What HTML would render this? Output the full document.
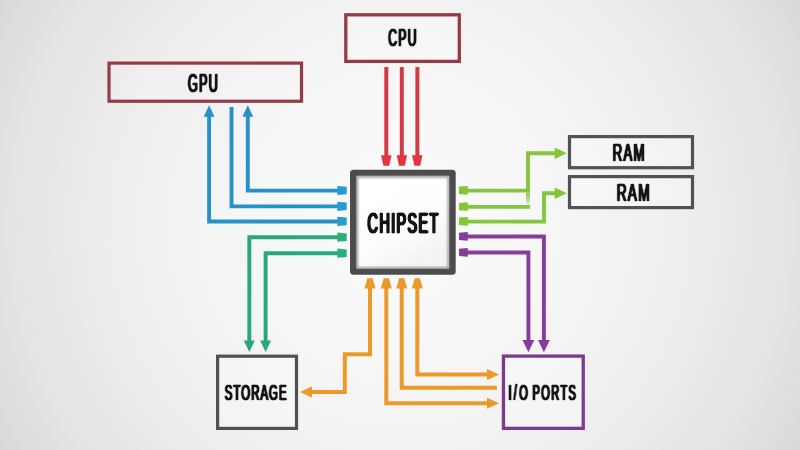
<!DOCTYPE html>
<html><head><meta charset="utf-8"><title>Chipset diagram</title>
<style>
html,body{margin:0;padding:0;width:800px;height:450px;overflow:hidden;background:#e9e9e9}
svg{display:block}
text{font-family:"Liberation Sans",sans-serif;font-weight:normal;fill:#121212;text-anchor:middle}
</style></head><body>
<svg width="800" height="450" viewBox="0 0 800 450">
<defs>
<radialGradient id="bg" gradientUnits="userSpaceOnUse" cx="400" cy="225" r="460">
<stop offset="0" stop-color="#fafafa"/>
<stop offset="0.30" stop-color="#f7f7f7"/>
<stop offset="0.48" stop-color="#f2f2f2"/>
<stop offset="0.63" stop-color="#eeeeee"/>
<stop offset="0.84" stop-color="#e4e4e4"/>
<stop offset="1" stop-color="#d9d9d9"/>
</radialGradient>
<linearGradient id="gfade" gradientUnits="userSpaceOnUse" x1="0" y1="192.600" x2="0" y2="204.900">
<stop offset="0" stop-color="#86c440" stop-opacity="0.95"/>
<stop offset="0.6" stop-color="#86c440" stop-opacity="0.55"/>
<stop offset="1" stop-color="#86c440" stop-opacity="0.1"/>
</linearGradient>
<linearGradient id="chip" x1="0" y1="0" x2="0.6" y2="1">
<stop offset="0" stop-color="#ffffff"/>
<stop offset="0.6" stop-color="#fefefe"/>
<stop offset="1" stop-color="#f3f3f3"/>
</linearGradient>
<filter id="soft" x="-5%" y="-5%" width="110%" height="110%"><feGaussianBlur stdDeviation="0.8"/></filter>
<filter id="fat2" x="-5%" y="-5%" width="110%" height="110%" color-interpolation-filters="sRGB">
<feConvolveMatrix in="SourceAlpha" order="3" kernelMatrix="0 0.3 0 0.65 1 0.65 0 0.3 0" divisor="1" preserveAlpha="false" result="d"/>
<feFlood flood-color="#141414"/><feComposite in2="d" operator="in"/>
</filter>
<filter id="fat" x="-5%" y="-5%" width="110%" height="110%" color-interpolation-filters="sRGB">
<feConvolveMatrix in="SourceAlpha" order="3" kernelMatrix="0 0.45 0 0.95 1 0.95 0 0.45 0" divisor="1" preserveAlpha="false" result="d"/>
<feFlood flood-color="#141414"/><feComposite in2="d" operator="in"/>
</filter>
</defs>
<rect width="800" height="450" fill="url(#bg)"/>

<!-- boxes -->
<g fill="#ffffff" fill-opacity="0.25" stroke-width="3.2">
<rect x="109" y="63.100" width="192.500" height="38.150" stroke="#953b46" fill-opacity="0.12"/>
<rect x="345.800" y="14.800" width="113.500" height="46.600" stroke="#953b46" stroke-width="3.300" fill-opacity="0.2"/>
<rect x="569.500" y="136.600" width="123" height="31.100" stroke="#525252"/>
<rect x="569.500" y="176.600" width="123" height="31" stroke="#525252"/>
<rect x="217.600" y="356.200" width="78.900" height="72.200" stroke="#505050"/>
<rect x="503.450" y="356.100" width="79.800" height="72.250" stroke="#7d3b90" stroke-width="3.300"/>
</g>

<!-- red -->
<g fill="none" stroke="#d23b43" stroke-width="4">
<path d="M386.300 67V157M401.800 67V157M417.400 67V157"/>
</g>
<g fill="#e5343b">
<path d="M381.100 155.300h10.400l-2.300 10.400h-5.800zM396.700 155.300h10.400l-2.300 10.400h-5.800zM412.100 155.300h10.400l-2.300 10.400h-5.800z"/>
</g>

<!-- blue -->
<g fill="none" stroke="#2591c7" stroke-width="3.900">
<path d="M209.100 115V221.500H340"/>
<path d="M231.500 107V206.400H340"/>
<path d="M247.800 115V190.600H340"/>
</g>
<g fill="#2591c7">
<path d="M203.700 116.800h10.800l-5.400-11.500zM242.400 116.800h10.800l-5.400-11.500z"/>
<path fill="#279bd2" d="M337.300 185.900L346.700 186.700V194.300L337.300 195.100zM337.300 201.700L346.700 202.500V210.100L337.300 210.900zM337.300 216.800L346.700 217.600V225.200L337.300 226z"/>
</g>

<!-- teal green -->
<g fill="none" stroke="#29a87b" stroke-width="3.900">
<path d="M340 237.300H249.300V342"/>
<path d="M340 253.300H265.600V342"/>
</g>
<g fill="#29a87b">
<path d="M243.800 340.500h11l-5.500 11.500zM260.100 340.500h11l-5.500 11.500z"/>
<path fill="#2aae80" d="M337.300 232.600L346.700 233.400V241L337.300 241.800zM337.300 248.600L346.700 249.400V257L337.300 257.800z"/>
</g>

<!-- light green -->
<g fill="none" stroke="#85c53f" stroke-width="3.900">
<path d="M462 190.600H528V153.300H557"/>
<path d="M462 206.900H530.100"/>
<path d="M462 221.600H544V193.200H557"/>
<path d="M528 192.600V204.900" stroke="url(#gfade)"/>
</g>
<g fill="#83c736">
<path d="M554.800 147.600v11.400l12-5.700zM554.800 187.500v11.400l12-5.700z"/>
<path d="M459 186.600L467.800 185.900V194.700L459 194zM459 202.900L467.800 202.200V211L459 210.300zM459 217.600L467.800 216.900V225.700L459 225z"/>
</g>

<!-- purple -->
<g fill="none" stroke="#863c9b" stroke-width="3.900">
<path d="M462 236.500H543.900V342"/>
<path d="M462 252.500H528.400V342"/>
</g>
<g fill="#863c9b">
<path d="M538 340h11.800l-5.900 12.200zM522.500 340h11.800l-5.900 12.200z"/>
<path d="M459 232.700L467.800 232V240.800L459 240.100zM459 248.700L467.800 248V256.800L459 256.100z"/>
</g>

<!-- orange -->
<g fill="none" stroke="#eb9a2a" stroke-width="4">
<path d="M370 287V354.300H344.800V392H310"/>
<path d="M386.300 287V403.300H489"/>
<path d="M401.700 287V387.800H497"/>
<path d="M417.300 287V374.600H489"/>
</g>
<g fill="#eb9a2a">
<path d="M364.500 288.500h11l-2.900-10.200h-5.200zM380.800 288.500h11l-2.900-10.200h-5.200zM396.200 288.500h11l-2.900-10.200h-5.200zM411.800 288.500h11l-2.900-10.200h-5.200z"/>
<path d="M312 386.500v11l-12-5.500zM487 397.800v11l12.200-5.500zM487 369.100v11l12.200-5.500z"/>
</g>

<!-- chipset -->
<rect x="350" y="169.700" width="105.700" height="105.100" rx="3.500" fill="#4c4c4c"/>
<rect x="356.300" y="175.800" width="93" height="93" rx="1.200" fill="url(#chip)"/>
<rect x="357" y="176.500" width="91.600" height="91.600" rx="1" fill="none" stroke="#5a5a5a" stroke-opacity="0.75" stroke-width="1.800" filter="url(#soft)"/>

<!-- labels -->
<!--L0-->
<g filter="url(#fat)">
<text transform="translate(403.59 232.85) scale(0.4910 1)" font-size="29.20" letter-spacing="2.85">CHIPSET</text>
</g>
<g filter="url(#fat2)">
<text transform="translate(203.56 91.80) scale(0.4846 1)" font-size="26.10" letter-spacing="2.68">GPU</text>
<text transform="translate(403.06 46.40) scale(0.4996 1)" font-size="24.30" letter-spacing="2.60">CPU</text>
<text transform="translate(629.13 161.30) scale(0.5550 1)" font-size="23.60" letter-spacing="2.34">RAM</text>
<text transform="translate(633.72 201.30) scale(0.5765 1)" font-size="23.60" letter-spacing="2.25">RAM</text>
<text transform="translate(256.22 400.30) scale(0.4974 1)" font-size="22.80" letter-spacing="2.21">STORAGE</text>
<text transform="translate(542.83 400.30) scale(0.4827 1)" font-size="22.80" letter-spacing="2.90"><tspan letter-spacing="4.76">I/</tspan>O<tspan letter-spacing="0.83"> </tspan>PORTS</text>
</g>
<!--L1-->
</svg>
</body></html>
